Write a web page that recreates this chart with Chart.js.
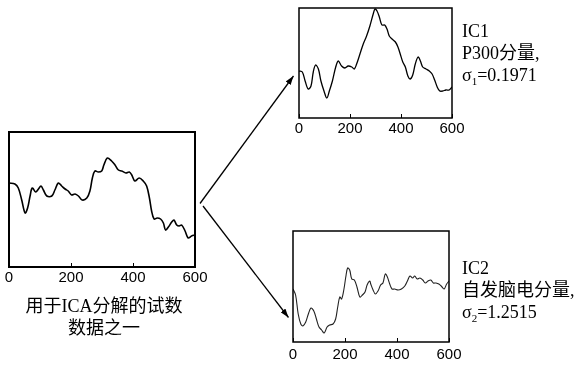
<!DOCTYPE html>
<html>
<head>
<meta charset="utf-8">
<script src="https://cdn.jsdelivr.net/npm/chart.js@4/dist/chart.umd.min.js"></script>
<style>
  html, body { margin: 0; padding: 0; background: #fff; }
  #wrap { position: relative; width: 583px; height: 369px; overflow: hidden; background: #fff; }
  canvas { position: absolute; left: 0; top: 0; }
  svg { position: absolute; left: 0; top: 0; }
  .txt { position: absolute; font-family: "Liberation Serif", "Noto Sans CJK SC", serif; font-size: 18px; line-height: 22px; color: #000; white-space: nowrap; }
  .cap { position: absolute; font-family: "Liberation Serif", "Noto Sans CJK SC", serif; font-size: 18px; line-height: 22.5px; color: #000; white-space: nowrap; text-align: center; }
</style>
</head>
<body>
<div id="wrap">
  <canvas id="cMain" width="583" height="369"></canvas>
  <canvas id="cIC1" width="583" height="369"></canvas>
  <canvas id="cIC2" width="583" height="369"></canvas>
  <svg width="583" height="369" viewBox="0 0 583 369">
    <defs>
      <marker id="ah" markerWidth="9" markerHeight="6" refX="9" refY="3" orient="auto" markerUnits="userSpaceOnUse">
        <path d="M0,0 L9,3 L0,6 z" fill="#000"/>
      </marker>
    </defs>
    <line x1="200" y1="203.5" x2="293.5" y2="76" stroke="#000" stroke-width="1.3" marker-end="url(#ah)"/>
    <line x1="203" y1="206" x2="288.5" y2="317.5" stroke="#000" stroke-width="1.3" marker-end="url(#ah)"/>
  </svg>
  <div class="txt" style="left:462px; top:19.5px;">IC1<br>P300分量,<br>σ<sub style="font-size:11px;vertical-align:-4px;line-height:0">1</sub>=0.1971</div>
  <div class="txt" style="left:462px; top:256.5px;">IC2<br>自发脑电分量,<br>σ<sub style="font-size:11px;vertical-align:-4px;line-height:0">2</sub>=1.2515</div>
  <div class="cap" style="left:4px; width:200px; top:294.5px;">用于ICA分解的试数<br>数据之一</div>
</div>
<script>
// ---- data (sample index vs. amplitude) ----
const xTicks = [0, 200, 400, 600];

const mainX = [0, 19, 30, 41, 52, 60, 68, 75, 86, 95, 103, 111, 122, 138, 148, 159, 170, 181, 191, 202, 213, 224, 236, 251, 261, 269, 277, 288, 299, 306, 317, 331, 342, 353, 364, 377, 388, 396, 406, 420, 433, 444, 453, 460, 468, 478, 489, 498, 505, 514, 525, 532, 541, 549, 557, 568, 578, 589, 600];
const mainY = [84, 83, 79, 67, 54, 59, 71, 79, 75, 78, 81, 77, 71, 71, 77, 84, 81, 78, 76, 72, 73, 71, 67, 69, 76, 89, 96, 95, 96, 102, 109, 106, 102, 97, 96, 94, 95, 92, 86, 89, 86, 81, 69, 56, 48, 49, 48, 44, 37, 40, 45, 47, 42, 41, 42, 36, 29, 31, 32];

const ic1X = [0, 13, 24, 36, 47, 56, 65, 76, 86, 98, 109, 119, 131, 144, 154, 167, 180, 193, 207, 217, 226, 239, 252, 265, 278, 291, 298, 306, 315, 325, 336, 345, 354, 365, 378, 388, 397, 407, 417, 427, 436, 446, 456, 467, 476, 485, 498, 511, 522, 532, 542, 552, 564, 576, 589, 600];
const ic1Y = [47, 46, 37, 29, 32, 46, 53, 49, 37, 27, 20, 27, 37, 51, 57, 52, 50, 52, 51, 49, 54, 64, 74, 82, 92, 104, 109, 107, 101, 93, 93, 89, 82, 79, 76, 71, 64, 56, 51, 42, 39, 43, 54, 61, 57, 51, 49, 47, 44, 38, 31, 27, 27, 28, 28, 31];

const ic2X = [0, 10, 20, 30, 38, 49, 59, 69, 80, 90, 100, 110, 120, 131, 141, 154, 164, 172, 180, 187, 196, 203, 210, 218, 226, 236, 246, 257, 267, 277, 285, 295, 299, 308, 317, 327, 337, 346, 355, 363, 372, 381, 391, 404, 417, 430, 440, 450, 460, 468, 478, 488, 499, 509, 519, 530, 540, 550, 561, 570, 581, 591, 600];
const ic2Y = [53, 47, 28, 18, 16, 20, 28, 34, 31, 23, 15, 12, 9, 15, 17, 18, 23, 35, 45, 43, 53, 65, 74, 72, 63, 62, 55, 45, 47, 50, 57, 61, 58, 52, 48, 51, 57, 59, 68, 65, 58, 53, 53, 52, 53, 56, 61, 66, 64, 66, 63, 64, 62, 59, 61, 62, 59, 59, 58, 56, 53, 58, 61];

// ---- layout / style (not data) ----
const W = 583, H = 369, SCALE_H = 22;

const framePlugin = {
  id: 'frame',
  afterDraw(chart, args, opts) {
    const { ctx, chartArea: a } = chart;
    const x = chart.scales.x;
    ctx.save();
    ctx.strokeStyle = '#000';
    ctx.lineWidth = opts.width || 1.5;
    ctx.strokeRect(a.left, a.top, a.right - a.left, a.bottom - a.top);
    ctx.lineWidth = 1;
    x.ticks.forEach(t => {
      const px = Math.round(x.getPixelForValue(t.value)) + 0.5;
      ctx.beginPath();
      ctx.moveTo(px, a.bottom);
      ctx.lineTo(px, a.bottom - 4);
      ctx.stroke();
    });
    ctx.restore();
  }
};

function makeChart(id, xs, ys, box, st) {
  const pts = xs.map((v, i) => ({ x: v, y: ys[i] }));
  return new Chart(document.getElementById(id), {
    type: 'line',
    data: { datasets: [{ data: pts, borderColor: st.color, borderWidth: st.lw, pointRadius: 0, tension: 0.35, fill: false }] },
    options: {
      responsive: false,
      animation: false,
      events: [],
      layout: { padding: { left: box.l, top: box.t, right: W - box.r, bottom: H - box.b - SCALE_H } },
      plugins: { legend: { display: false }, tooltip: { enabled: false }, frame: { width: st.frame } },
      scales: {
        x: {
          type: 'linear', min: 0, max: 600,
          afterBuildTicks: s => { s.ticks = xTicks.map(v => ({ value: v })); },
          afterFit: s => { s.height = SCALE_H; },
          grid: { display: false, drawTicks: false },
          border: { display: false },
          ticks: { color: '#000', padding: st.tp, maxRotation: 0, autoSkip: false,
                   font: { family: '"Liberation Sans", Arial, sans-serif', size: 15 } }
        },
        y: { display: false, min: 0, max: box.b - box.t }
      }
    },
    plugins: [framePlugin]
  });
}

makeChart('cMain', mainX, mainY, { l: 9, t: 132, r: 195, b: 267 }, { color: '#000', lw: 1.6, frame: 2, tp: 2 });
makeChart('cIC1', ic1X, ic1Y, { l: 299, t: 8, r: 452, b: 118 }, { color: '#000', lw: 1.3, frame: 1.5, tp: 2 });
makeChart('cIC2', ic2X, ic2Y, { l: 293, t: 231, r: 449, b: 342 }, { color: '#222', lw: 1.1, frame: 1.5, tp: 4 });
</script>
</body>
</html>
